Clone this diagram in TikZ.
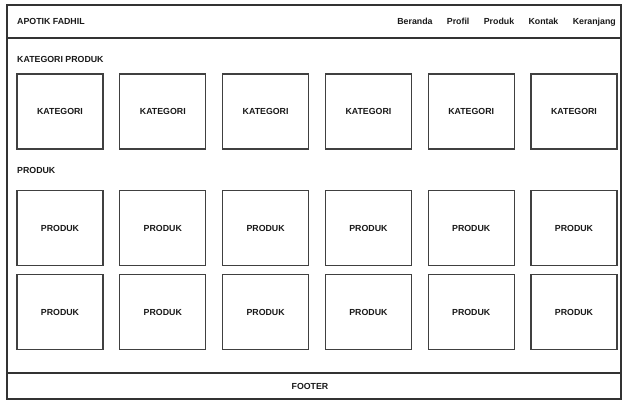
\documentclass[tikz,border=0pt]{standalone}
\usepackage{fontspec}
\setmainfont{Liberation Sans}
\usetikzlibrary{positioning}
\tikzstyle{framestyle}=[draw=black!80, line width=1.3pt]
\tikzstyle{itembox} = [draw=black!75, line width=1.1pt, fill=white,
  minimum width=86pt, minimum height=75pt, inner sep=0pt,
  font=\fontsize{8.8}{10}\selectfont\bfseries, text=black!90]
\tikzstyle{label} = [anchor=base west, inner sep=0pt,
  font=\fontsize{8.8}{10}\selectfont\bfseries, text=black!90]
\tikzstyle{menu} = [inner sep=0pt, font=\fontsize{8.8}{10}\selectfont\bfseries,
  text=black!90]
\newcommand{\kat}[1]{node (k#1) [itembox] {KATEGORI}}
\newcommand{\prd}[1]{node (p#1) [itembox] {PRODUK}}

\begin{document}
\begin{tikzpicture}[x=1pt, y=-1pt]
\useasboundingbox (0,0) rectangle (623,400);
% Draw page frame
\draw [framestyle] (7,5) rectangle (621,399);
\draw [framestyle, line width=1.1pt] (7,38) -- (621,38);
\draw [framestyle, line width=1.1pt] (7,373) -- (621,373);

% Draw header and footer texts
\node (logo) [label] at (17,24.5) {APOTIK FADHIL};
\node (m5) [menu, anchor=base east] at (616,24.5) {Keranjang};
\node (m4) [menu, base left=14pt of m5] {Kontak};
\node (m3) [menu, base left=14pt of m4] {Produk};
\node (m2) [menu, base left=14pt of m3] {Profil};
\node (m1) [menu, base left=14pt of m2] {Beranda};
\node (foot) [menu] at (310,386) {FOOTER};

% Draw section titles
\node (tkat) [label] at (17,62.5) {KATEGORI PRODUK};
\node (tprd) [label] at (17,173.5) {PRODUK};

% Draw kategori boxes
\path (60,111.5)       \kat{1};
\path (k1) +(102.8,0)  \kat{2};
\path (k2) +(102.8,0)  \kat{3};
\path (k3) +(102.8,0)  \kat{4};
\path (k4) +(102.8,0)  \kat{5};
\path (k5) +(102.8,0)  \kat{6};

% Draw produk boxes
\path (60,228)         \prd{1};
\path (p1) +(102.8,0)  \prd{2};
\path (p2) +(102.8,0)  \prd{3};
\path (p3) +(102.8,0)  \prd{4};
\path (p4) +(102.8,0)  \prd{5};
\path (p5) +(102.8,0)  \prd{6};
\path (p1) +(0,84)     \prd{7};
\path (p7) +(102.8,0)  \prd{8};
\path (p8) +(102.8,0)  \prd{9};
\path (p9) +(102.8,0)  \prd{10};
\path (p10) +(102.8,0) \prd{11};
\path (p11) +(102.8,0) \prd{12};
\end{tikzpicture}
\end{document}
